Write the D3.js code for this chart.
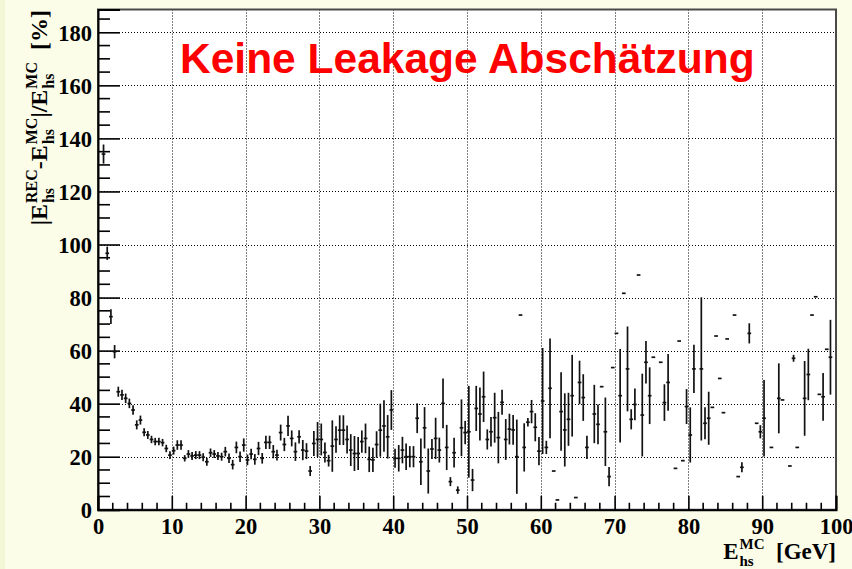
<!DOCTYPE html>
<html><head><meta charset="utf-8">
<script src="https://cdn.jsdelivr.net/npm/d3@7"></script>
<style>html,body{margin:0;padding:0;background:#fcfde8;}svg{display:block;}</style>
</head><body>
<script>
// ---- data ----
const energy = [0.75,1.25,1.75,2.25,2.75,3.25,3.75,4.25,4.75,5.25,5.75,6.25,6.75,7.25,7.75,8.25,8.75,9.25,9.75,10.25,10.75,11.25,11.75,12.25,12.75,13.25,13.75,14.25,14.75,15.25,15.75,16.25,16.75,17.25,17.75,18.25,18.75,19.25,19.75,20.25,20.75,21.25,21.75,22.25,22.75,23.25,23.75,24.25,24.75,25.25,25.75,26.25,26.75,27.25,27.75,28.25,28.75,29.25,29.75,30.25,30.75,31.25,31.75,32.25,32.75,33.25,33.75,34.25,34.75,35.25,35.75,36.25,36.75,37.25,37.75,38.25,38.75,39.25,39.75,40.25,40.75,41.25,41.75,42.25,42.75,43.25,43.75,44.25,44.75,45.25,45.75,46.25,46.75,47.25,47.75,48.25,48.75,49.25,49.75,50.25,50.75,51.25,51.75,52.25,52.75,53.25,53.75,54.25,54.75,55.25,55.75,56.25,56.75,57.25,57.75,58.25,58.75,59.25,59.75,60.25,60.75,61.25,61.75,62.25,62.75,63.25,63.75,64.25,64.75,65.25,65.75,66.25,67.25,67.75,68.25,68.75,69.25,69.75,70.25,70.75,71.25,71.75,72.25,72.75,73.25,73.75,74.25,74.75,75.25,76.25,76.75,77.25,78.25,78.75,79.25,79.75,80.25,80.75,81.75,82.25,82.75,83.25,83.75,84.25,84.75,85.25,86.25,86.75,87.25,88.25,89.25,89.75,90.25,91.25,92.25,92.75,93.75,94.25,94.75,95.75,96.25,96.75,97.25,97.75,98.25,98.75,99.25];
const deviation = [134.1,96.7,72.8,59.6,44.5,43.3,42.0,40.1,37.6,32.0,33.8,29.2,28.2,26.5,25.7,25.7,25.3,23.1,20.6,22.3,24.4,24.4,19.4,21.0,20.3,20.6,20.6,19.8,18.1,21.5,21.0,20.3,20.0,21.9,19.4,17.0,23.5,20.0,24.4,18.8,21.0,19.0,23.1,19.4,25.4,25.4,21.9,20.6,29.1,24.6,31.6,26.9,21.9,27.5,22.5,22.1,14.6,25.0,26.5,26.5,21.6,18.5,24.0,26.5,30.0,30.0,26.5,22.5,21.2,21.2,25.7,26.9,19.0,18.8,24.6,30.0,31.6,27.5,37.6,19.4,19.4,22.5,20.0,20.0,20.0,34.5,18.1,30.9,14.6,22.9,26.9,22.5,40.1,23.5,10.6,21.5,7.4,30.9,29.1,29.4,11.2,38.2,36.1,42.6,26.5,29.4,34.7,27.2,40.5,26.5,30.4,30.1,20.0,73.4,23.5,33.0,37.0,31.1,22.1,41.0,23.5,45.8,14.6,3.7,37.0,30.1,34.1,43.0,4.6,48.0,42.3,23.5,36.1,32.2,46.4,29.4,12.5,53.6,66.5,43.0,81.6,53.1,34.1,39.7,88.5,35.7,55.6,43.0,57.5,55.6,40.4,48.0,15.6,63.6,18.5,38.9,28.2,53.1,53.1,32.6,34.5,38.6,65.5,49.5,36.6,64.4,73.4,12.5,16.0,66.5,32.6,29.4,34.5,23.5,42.0,41.4,16.5,57.1,23.5,42.0,51.0,73.4,80.3,43.5,42.6,60.5,57.5];
const error = [3.6,2.5,2.8,2.5,1.9,1.9,1.8,1.8,1.8,1.7,1.7,1.5,1.5,1.4,1.4,1.4,1.4,1.4,1.5,1.5,1.8,1.8,1.2,1.5,1.5,1.5,1.5,1.5,1.5,1.6,1.5,1.5,1.5,1.8,1.8,1.8,2.2,2.0,2.5,2.0,2.0,2.0,2.5,2.0,2.5,2.5,2.5,2.0,3.0,2.5,3.8,3.0,3.5,2.5,3.8,3.0,1.9,4.7,6.6,6.0,3.8,2.2,9.7,5.0,5.6,5.6,5.3,6.0,6.6,6.2,4.2,5.6,4.8,4.6,5.0,10.0,9.7,8.2,7.5,3.6,5.0,5.0,5.0,4.0,4.0,5.6,8.8,7.8,8.5,3.8,7.8,4.7,9.4,8.5,1.7,5.6,1.4,10.7,4.4,17.3,4.2,8.5,10.0,9.5,3.8,5.6,9.4,9.7,4.7,7.7,5.8,5.6,14.0,0,9.1,1.6,4.4,5.3,5.3,20.0,2.5,18.8,0,0,14.8,13.8,10.0,15.4,0,8.2,8.8,4.4,11.0,7.5,0,12.9,3.6,0,0,17.6,0,16.0,3.8,6.0,0,15.6,8.0,10.7,0,0,6.9,10.7,0,0,0,6.6,10.4,9.1,27.0,6.0,10.0,0,0,0,0,0,0,0,1.9,3.8,0,2.5,14.4,0,13.2,0,0,1.3,0,14.1,9.7,0,0,0,9.0,0,14.1];
const binHalfWidth = 0.25;
const xTicks = [0,10,20,30,40,50,60,70,80,90,100];
const yTicks = [0,20,40,60,80,100,120,140,160,180];
const titleText = "Keine Leakage Abschätzung";

// ---- layout ----
const W = 852, H = 569;
const L = 98, R = 836, T = 9.5, B = 509.75;
const svg = d3.select("body").append("svg").attr("width", W).attr("height", H);
svg.append("rect").attr("width", W).attr("height", H).attr("fill", "#fcfde8");
svg.append("rect").attr("width", 5).attr("height", H).attr("fill", "#f2f8d6");

const x = d3.scaleLinear().domain([0, 100]).range([L, R]);
const y = d3.scaleLinear().domain([0, 188.6]).range([B, T]);

svg.append("rect").attr("x", L).attr("y", T).attr("width", R - L).attr("height", B - T).attr("fill", "#fff");

// grid
const grid = svg.append("g").attr("stroke", "#000").attr("stroke-width", 1).attr("stroke-dasharray", "1,2");
grid.selectAll(".gx").data(xTicks.filter(d => d > 0 && d < 100)).join("line")
  .attr("x1", d => Math.round(x(d)) + 0.5).attr("x2", d => Math.round(x(d)) + 0.5).attr("y1", T).attr("y2", B);
grid.selectAll(".gy").data(yTicks.filter(d => d > 0)).join("line")
  .attr("y1", d => Math.round(y(d)) + 0.5).attr("y2", d => Math.round(y(d)) + 0.5).attr("x1", L).attr("x2", R);

// frame
svg.append("rect").attr("x", L).attr("y", T).attr("width", R - L).attr("height", B - T)
  .attr("fill", "none").attr("stroke", "#4a4a4a").attr("stroke-width", 2);

// axes (ROOT style: ticks inside)
const fontSerif = "'Liberation Serif', 'Times New Roman', serif";
const xAxis = d3.axisBottom(x).tickValues(xTicks).tickSize(-14).tickPadding(22).tickFormat(d3.format("d"));
const gx = svg.append("g").attr("transform", `translate(0,${B})`).call(xAxis);
const xMinor = d3.range(0, 101, 2).filter(d => d % 10 !== 0);
gx.selectAll(".minor").data(xMinor).join("line").attr("class", "minor")
  .attr("x1", d => x(d)).attr("x2", d => x(d)).attr("y1", 0).attr("y2", -7).attr("stroke", "#000").attr("stroke-width", 1.6);

const yAxis = d3.axisLeft(y).tickValues(yTicks).tickSize(-22).tickPadding(6).tickFormat(d3.format("d"));
const gy = svg.append("g").attr("transform", `translate(${L},0)`).call(yAxis);
const yMinor = d3.range(0, 189, 5).filter(d => d % 20 !== 0);
gy.selectAll(".minor").data(yMinor).join("line").attr("class", "minor")
  .attr("y1", d => y(d)).attr("y2", d => y(d)).attr("x1", 0).attr("x2", 12).attr("stroke", "#000").attr("stroke-width", 1.6);

[gx, gy].forEach(g => {
  g.select(".domain").attr("stroke", "#000").attr("stroke-width", 2);
  g.selectAll(".tick line").attr("stroke", "#000").attr("stroke-width", 1.6);
  g.selectAll(".tick text").attr("font-family", fontSerif).attr("font-weight", "bold")
    .attr("font-size", 22.5).attr("fill", "#000");
});
gy.selectAll(".tick text").attr("x", -6).attr("dy", "0.35em");
gx.selectAll(".tick text").attr("y", 24).attr("dy", 0);

// data: error bars with bin widths
const pts = energy.map((e, i) => ({ e, v: deviation[i], err: error[i] }));
const marks = svg.append("g").attr("stroke", "#111").attr("stroke-width", 1.7);
marks.selectAll(".h").data(pts).join("line")
  .attr("x1", d => x(d.e - binHalfWidth)).attr("x2", d => x(d.e + binHalfWidth))
  .attr("y1", d => y(d.v)).attr("y2", d => y(d.v));
marks.selectAll(".v").data(pts.filter(d => d.err > 0)).join("line")
  .attr("x1", d => x(d.e)).attr("x2", d => x(d.e))
  .attr("y1", d => y(d.v - d.err)).attr("y2", d => y(d.v + d.err));

// latex-like text helper
function latex(g, parts, size, small) {
  let cx = 0;
  parts.forEach(p => {
    if (p.t) {
      const t = g.append("text").attr("x", cx).attr("y", 0).attr("font-family", fontSerif)
        .attr("font-weight", "bold").attr("font-size", size).style("white-space", "pre").text(p.t);
      cx += t.node().getComputedTextLength();
    }
    let w = 0;
    if (p.sup) {
      const s = g.append("text").attr("x", cx + 1).attr("y", -size * 0.42).attr("font-family", fontSerif)
        .attr("font-weight", "bold").attr("font-size", small).text(p.sup);
      w = Math.max(w, s.node().getComputedTextLength() + 1);
    }
    if (p.sub) {
      const s = g.append("text").attr("x", cx + 1).attr("y", size * 0.3).attr("font-family", fontSerif)
        .attr("font-weight", "bold").attr("font-size", small).text(p.sub);
      w = Math.max(w, s.node().getComputedTextLength() + 1);
    }
    cx += w;
  });
  return cx;
}

// x title
const xt = svg.append("g");
const xtIn = xt.append("g");
const xw = latex(xtIn, [{ t: "E", sup: "MC", sub: "hs" }, { t: "  [GeV]" }], 23, 15);
xt.attr("transform", `translate(${836 - xw},559)`);

// y title
const yt = svg.append("g");
const ytIn = yt.append("g");
const yw = latex(ytIn, [
  { t: "|E", sup: "REC", sub: "hs" }, { t: "-E", sup: "MC", sub: "hs" },
  { t: "|/E", sup: "MC", sub: "hs" }, { t: "  [%]" }], 24, 16);
yt.attr("transform", `translate(47,10) rotate(-90)`);
ytIn.attr("transform", `translate(${-yw},0)`);

// title
svg.append("text").attr("x", 180).attr("y", 73).attr("font-family", "'Liberation Sans', Arial, sans-serif")
  .attr("font-weight", "bold").attr("font-size", 42.5).attr("fill", "#ff0000").text(titleText);
</script>
</body></html>
